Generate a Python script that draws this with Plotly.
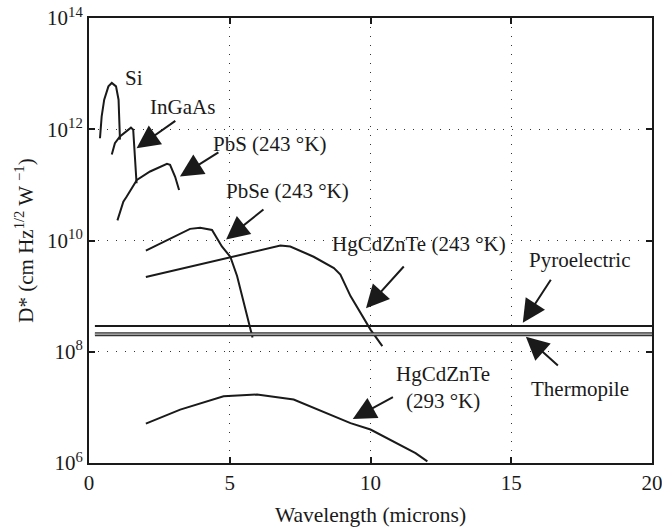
import plotly.graph_objects as go

# ---------------- data ----------------
si_x = [0.39, 0.45, 0.54, 0.69, 0.81, 0.96, 1.05, 1.10]
si_y = [6.9e11, 1.7e12, 3.4e12, 5.9e12, 6.8e12, 5.9e12, 3.4e12, 6.5e11]

ingaas_x = [0.81, 0.92, 1.10, 1.34, 1.49, 1.57, 1.69]
ingaas_y = [3.5e11, 5.6e11, 7.4e11, 9.4e11, 1.07e12, 9.8e11, 1.07e11]

pbs_x = [1.01, 1.22, 1.34, 1.70, 2.17, 2.77, 2.88, 3.06, 3.20]
pbs_y = [2.3e10, 5.0e10, 6.2e10, 1.23e11, 1.74e11, 2.4e11, 2.3e11, 1.4e11, 8.1e10]

pbse_x = [2.02, 3.59, 3.95, 4.37, 4.72, 5.02, 5.26, 5.81]
pbse_y = [6.6e9, 1.62e10, 1.7e10, 1.55e10, 7.8e9, 5.1e9, 2.3e9, 1.8e8]

hg243_x = [2.02, 5.02, 6.80, 7.15, 7.98, 8.70, 8.93, 9.29, 10.0, 10.42]
hg243_y = [2.2e9, 4.9e9, 8.1e9, 7.8e9, 5.1e9, 3.2e9, 2.45e9, 1.0e9, 2.5e8, 1.26e8]

hg293_x = [2.02, 3.24, 4.78, 5.97, 7.27, 8.58, 9.29, 10.0, 11.6, 12.02]
hg293_y = [5.1e6, 9.1e6, 1.58e7, 1.7e7, 1.38e7, 7.2e6, 5.2e6, 4.0e6, 1.5e6, 1.07e6]

pyro_x = [0.21, 20]
pyro_y = [2.9e8, 2.9e8]
thermo_x = [0.21, 20]
thermo_y = [2.07e8, 2.07e8]

x_ticks = [0, 5, 10, 15, 20]
x_ticktext = ["0", "5", "10", "15", "20"]
y_ticks = [1e6, 1e8, 1e10, 1e12, 1e14]
y_ticktext = ["10<sup>6</sup>", "10<sup>8</sup>", "10<sup>10</sup>", "10<sup>12</sup>", "10<sup>14</sup>"]

# labels: (text, x, log10 y, xanchor)
labels = [
    ("Si", 1.21, 12.92, "left"),
    ("InGaAs", 2.10, 12.40, "left"),
    ("PbS (243 °K)", 4.33, 11.74, "left"),
    ("PbSe (243 °K)", 4.80, 10.89, "left"),
    ("HgCdZnTe (243 °K)", 8.56, 9.94, "left"),
    ("Pyroelectric", 15.56, 9.65, "left"),
    ("Thermopile", 15.63, 7.33, "left"),
    ("HgCdZnTe<br>(293 °K)", 12.58, 7.35, "center"),
]
# arrows: (head x, head log10 y, tail x, tail log10 y)
arrows = [
    (1.69, 11.66, 3.12, 12.17),
    (3.23, 11.15, 4.65, 11.60),
    (4.87, 10.02, 6.25, 10.58),
    (9.84, 8.78, 11.23, 9.56),
    (15.41, 8.52, 16.44, 9.32),
    (15.52, 8.27, 16.71, 7.73),
    (9.37, 6.79, 10.85, 7.20),
]

FONT = "Liberation Serif"
INK = "#1a1a1a"

fig = go.Figure()
line = dict(color=INK, width=2)
for xs, ys in [(si_x, si_y), (ingaas_x, ingaas_y), (pbs_x, pbs_y), (pbse_x, pbse_y),
               (hg243_x, hg243_y), (hg293_x, hg293_y), (pyro_x, pyro_y)]:
    fig.add_trace(go.Scatter(x=xs, y=ys, mode="lines", line=line, showlegend=False,
                             hoverinfo="skip"))
fig.add_trace(go.Scatter(x=thermo_x, y=thermo_y, mode="lines",
                         line=dict(color="#333333", width=4), showlegend=False, hoverinfo="skip"))
fig.add_trace(go.Scatter(x=thermo_x, y=thermo_y, mode="lines",
                         line=dict(color="#c4c4c4", width=1.4), showlegend=False, hoverinfo="skip"))

annotations = []
for text, x, ly, xa in labels:
    annotations.append(dict(x=x, y=ly, xref="x", yref="y", text=text, showarrow=False,
                            xanchor=xa, yanchor="middle", align="center",
                            font=dict(family=FONT, size=21, color=INK)))
for hx, hy, tx, ty in arrows:
    annotations.append(dict(x=hx, y=hy, ax=tx, ay=ty, xref="x", yref="y", axref="x", ayref="y",
                            text="", showarrow=True, arrowhead=2, arrowsize=2.3,
                            arrowwidth=2, arrowcolor=INK))

fig.update_layout(
    width=662, height=528,
    margin=dict(l=89, r=10, t=18, b=65),
    paper_bgcolor="white", plot_bgcolor="white",
    font=dict(family=FONT, size=21, color=INK),
    annotations=annotations,
    showlegend=False,
)
fig.update_xaxes(
    range=[0, 20], tickvals=x_ticks, ticktext=x_ticktext,
    showline=True, linecolor=INK, linewidth=2, mirror="ticks",
    ticks="inside", ticklen=6, tickcolor=INK, tickwidth=1.5,
    showgrid=True, gridcolor="#333333", gridwidth=1, griddash="1px,8px",
    zeroline=False, automargin=False, ticklabeloverflow="allow",
    title=dict(text="Wavelength (microns)", standoff=13, font=dict(family=FONT, size=21.5)),
    tickfont=dict(family=FONT, size=21),
)
fig.update_yaxes(
    type="log", range=[6, 14], tickvals=y_ticks, ticktext=y_ticktext,
    showline=True, linecolor=INK, linewidth=2, mirror="ticks",
    ticks="inside", ticklen=6, tickcolor=INK, tickwidth=1.5,
    showgrid=True, gridcolor="#333333", gridwidth=1, griddash="1px,8px",
    zeroline=False, automargin=False, ticklabeloverflow="allow",
    title=dict(text="D* (cm Hz<sup>1/2</sup> W <sup>−1</sup>)", standoff=8,
               font=dict(family=FONT, size=21)),
    tickfont=dict(family=FONT, size=21),
)

fig.write_html("out.html")
